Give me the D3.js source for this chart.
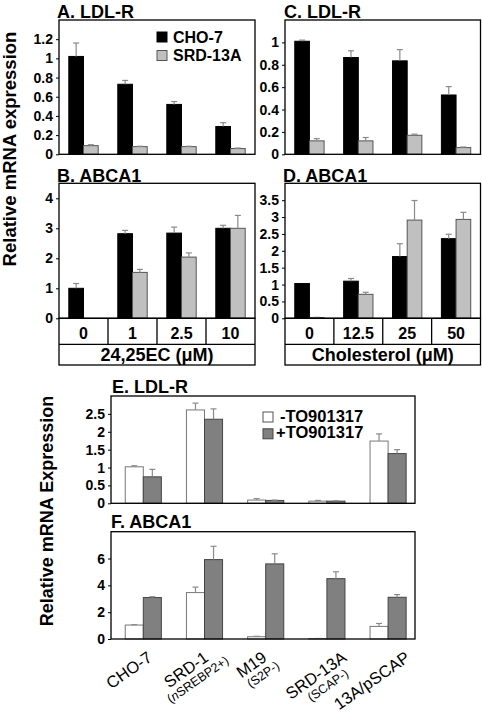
<!DOCTYPE html>
<html><head><meta charset="utf-8">
<script src="https://cdn.jsdelivr.net/npm/d3@7/dist/d3.min.js"></script>
<style>
html,body{margin:0;padding:0;background:#fff;}
svg{display:block;font-family:"Liberation Sans",Arial,Helvetica,sans-serif;}
</style></head>
<body>
<svg id="c" width="482" height="712"></svg>
<script>
// ---------- data ----------
const oxyConc = ["0", "1", "2.5", "10"];          // 24,25EC (µM)
const cholConc = ["0", "12.5", "25", "50"];       // Cholesterol (µM)
const topSeries = ["CHO-7", "SRD-13A"];

const ldlrOxyCHO = [1.02, 0.73, 0.52, 0.29];
const ldlrOxyCHOErr = [0.14, 0.04, 0.03, 0.04];
const ldlrOxySRD = [0.09, 0.08, 0.08, 0.06];
const ldlrOxySRDErr = [0.01, 0.004, 0.004, 0.005];

const abcaOxyCHO = [1.0, 2.82, 2.84, 3.0];
const abcaOxyCHOErr = [0.16, 0.11, 0.2, 0.1];
const abcaOxySRD = [0.0, 1.53, 2.04, 3.0];
const abcaOxySRDErr = [0.0, 0.1, 0.14, 0.43];

const ldlrCholCHO = [1.01, 0.865, 0.835, 0.53];
const ldlrCholCHOErr = [0.01, 0.06, 0.1, 0.075];
const ldlrCholSRD = [0.12, 0.12, 0.17, 0.06];
const ldlrCholSRDErr = [0.02, 0.03, 0.01, 0.005];

const abcaCholCHO = [1.03, 1.1, 1.83, 2.36];
const abcaCholCHOErr = [0.0, 0.08, 0.38, 0.13];
const abcaCholSRD = [0.02, 0.71, 2.91, 2.93];
const abcaCholSRDErr = [0.01, 0.06, 0.58, 0.21];

const cellLines = ["CHO-7", "SRD-1", "M19", "SRD-13A", "13A/pSCAP"];
const cellSub = ["", "(nSREBP2+)", "(S2P-)", "(SCAP-)", ""];
const toSeries = ["-TO901317", "+TO901317"];

const ldlrMinus = [1.02, 2.61, 0.09, 0.06, 1.74];
const ldlrMinusErr = [0.03, 0.19, 0.04, 0.02, 0.2];
const ldlrPlus = [0.74, 2.35, 0.08, 0.06, 1.39];
const ldlrPlusErr = [0.21, 0.29, 0.01, 0.01, 0.11];

const abcaMinus = [1.04, 3.46, 0.17, 0.03, 0.94];
const abcaMinusErr = [0.03, 0.41, 0.03, 0.01, 0.22];
const abcaPlus = [3.09, 5.92, 5.6, 4.5, 3.11];
const abcaPlusErr = [0.06, 0.99, 0.75, 0.51, 0.2];

const ticksA = [0, 0.2, 0.4, 0.6, 0.8, 1, 1.2];
const ticksB = [0, 1, 2, 3, 4];
const ticksC = [0, 0.2, 0.4, 0.6, 0.8, 1];
const ticksD = [0, 0.5, 1, 1.5, 2, 2.5, 3, 3.5];
const ticksE = [0, 0.5, 1, 1.5, 2, 2.5];
const ticksF = [0, 2, 4, 6];

// ---------- layout (text nudges for the slanted cell-line labels) ----------
const labelNudge = [10, 5, 2, 21, 23];

// ---------- drawing ----------
const svg = d3.select("#c");
const BOLD = "bold";

function panel(opt) {
  const g = svg.append("g");
  const y = d3.scaleLinear().domain(opt.domain).range([opt.y1, opt.y0]);
  const x0 = d3.scaleBand().domain(opt.groups).range(opt.bandRange || [opt.x0, opt.x1]);
  const bw = x0.bandwidth();
  const x1 = d3.scaleBand().domain(opt.series.map((s, i) => i)).range([bw * opt.inner, bw * (1 - opt.inner)]);

  opt.values.forEach((vals, si) => {
    g.selectAll(null).data(vals).enter().append("rect")
      .attr("x", (d, i) => x0(opt.groups[i]) + x1(si))
      .attr("y", d => y(d))
      .attr("width", x1.bandwidth())
      .attr("height", d => Math.max(0, y(0) - y(d)))
      .attr("fill", opt.fills[si])
      .attr("stroke", opt.strokes[si])
      .attr("stroke-width", 1);
  });
  opt.values.forEach((vals, si) => {
    const errs = opt.errors[si];
    vals.forEach((v, i) => {
      if (!errs[i]) return;
      const cx = x0(opt.groups[i]) + x1(si) + x1.bandwidth() / 2;
      g.append("line").attr("x1", cx).attr("x2", cx).attr("y1", y(v)).attr("y2", y(v + errs[i]))
        .attr("stroke", "#8a8a8a").attr("stroke-width", 1.2);
      g.append("line").attr("x1", cx - 3).attr("x2", cx + 3).attr("y1", y(v + errs[i])).attr("y2", y(v + errs[i]))
        .attr("stroke", "#8a8a8a").attr("stroke-width", 1.2);
    });
  });
  g.append("rect").attr("x", opt.x0).attr("y", opt.y0).attr("width", opt.x1 - opt.x0).attr("height", opt.y1 - opt.y0)
    .attr("fill", "none").attr("stroke", "#000").attr("stroke-width", 1.3);
  const ax = g.append("g").attr("transform", `translate(${opt.x0},0)`)
    .call(d3.axisLeft(y).tickValues(opt.ticks).tickSize(3).tickPadding(3).tickFormat(d3.format("~g")));
  ax.select(".domain").remove();
  ax.selectAll("line").attr("stroke", "#000");
  ax.selectAll("text").attr("font-size", 14).attr("font-weight", BOLD).attr("fill", "#000")
    .attr("font-family", "Liberation Sans, Arial, sans-serif");
  svg.append("text").attr("x", opt.titleX).attr("y", opt.titleY).text(opt.title)
    .attr("font-size", 18).attr("font-weight", BOLD);
  return {x0, y};
}

const pA = panel({title: "A. LDL-R", titleX: 57, titleY: 18, groups: oxyConc, series: topSeries,
  x0: 59, x1: 255, y0: 20, y1: 154.3, domain: [0, 1.4], ticks: ticksA, inner: 0.2,
  values: [ldlrOxyCHO, ldlrOxySRD], errors: [ldlrOxyCHOErr, ldlrOxySRDErr],
  fills: ["#000", "#c0c0c0"], strokes: ["#000", "#555"]});
const pB = panel({title: "B. ABCA1", titleX: 57, titleY: 181.5, groups: oxyConc, series: topSeries,
  x0: 59, x1: 255, y0: 183.3, y1: 318.3, domain: [0, 4.5], ticks: ticksB, inner: 0.2,
  values: [abcaOxyCHO, abcaOxySRD], errors: [abcaOxyCHOErr, abcaOxySRDErr],
  fills: ["#000", "#c0c0c0"], strokes: ["#000", "#555"]});
const pC = panel({title: "C. LDL-R", titleX: 284, titleY: 18, groups: cholConc, series: topSeries,
  x0: 285, x1: 480.5, y0: 20, y1: 154.3, domain: [0, 1.2], ticks: ticksC, inner: 0.2,
  values: [ldlrCholCHO, ldlrCholSRD], errors: [ldlrCholCHOErr, ldlrCholSRDErr],
  fills: ["#000", "#c0c0c0"], strokes: ["#000", "#555"]});
const pD = panel({title: "D. ABCA1", titleX: 283, titleY: 181.5, groups: cholConc, series: topSeries,
  x0: 285, x1: 480.5, y0: 183.3, y1: 318.3, domain: [0, 4], ticks: ticksD, inner: 0.2,
  values: [abcaCholCHO, abcaCholSRD], errors: [abcaCholCHOErr, abcaCholSRDErr],
  fills: ["#000", "#c0c0c0"], strokes: ["#000", "#555"]});

topSeries.forEach((s, i) => {
  svg.append("rect").attr("x", 157).attr("y", 32 + i * 18.5).attr("width", 10).attr("height", 10)
    .attr("fill", i ? "#c0c0c0" : "#000").attr("stroke", i ? "#555" : "#000");
  svg.append("text").attr("x", 173).attr("y", 42.5 + i * 18.5).text(s)
    .attr("font-size", 16).attr("font-weight", BOLD);
});

function table(p, groups, label, x0, x1) {
  const top = 318.3, mid = 344.3, bot = 365;
  const g = svg.append("g");
  g.append("rect").attr("x", x0).attr("y", top).attr("width", x1 - x0).attr("height", bot - top)
    .attr("fill", "none").attr("stroke", "#000").attr("stroke-width", 1.3);
  g.append("line").attr("x1", x0).attr("x2", x1).attr("y1", mid).attr("y2", mid).attr("stroke", "#000").attr("stroke-width", 1.3);
  groups.forEach((c, i) => {
    if (i > 0) g.append("line").attr("x1", p.x0(c)).attr("x2", p.x0(c)).attr("y1", top).attr("y2", mid)
      .attr("stroke", "#000").attr("stroke-width", 1.3);
    g.append("text").attr("x", p.x0(c) + p.x0.bandwidth() / 2).attr("y", 339).attr("text-anchor", "middle")
      .text(c).attr("font-size", 16).attr("font-weight", BOLD);
  });
  g.append("text").attr("x", (x0 + x1) / 2).attr("y", 361).attr("text-anchor", "middle")
    .text(label).attr("font-size", 18).attr("font-weight", BOLD);
}
table(pB, oxyConc, "24,25EC (\u03BCM)", 59, 255);
table(pD, cholConc, "Cholesterol (\u03BCM)", 285, 480.5);

const pE = panel({title: "E. LDL-R", titleX: 112, titleY: 393, groups: cellLines, series: toSeries,
  x0: 111, x1: 415, bandRange: [112.7, 418.7], y0: 396, y1: 503.3, domain: [0, 3], ticks: ticksE, inner: 0.205,
  values: [ldlrMinus, ldlrPlus], errors: [ldlrMinusErr, ldlrPlusErr],
  fills: ["#fff", "#808080"], strokes: ["#777", "#444"]});
const pF = panel({title: "F. ABCA1", titleX: 111, titleY: 527.5, groups: cellLines, series: toSeries,
  x0: 111, x1: 415, bandRange: [112.7, 418.7], y0: 531.7, y1: 639, domain: [0, 8], ticks: ticksF, inner: 0.205,
  values: [abcaMinus, abcaPlus], errors: [abcaMinusErr, abcaPlusErr],
  fills: ["#fff", "#808080"], strokes: ["#777", "#444"]});

toSeries.forEach((s, i) => {
  svg.append("rect").attr("x", 263).attr("y", 412 + i * 16.8).attr("width", 10).attr("height", 10)
    .attr("fill", i ? "#808080" : "#fff").attr("stroke", i ? "#444" : "#555");
  svg.append("text").attr("x", i ? 276 : 280).attr("y", 421.5 + i * 16.8).text(s)
    .attr("font-size", 16.5).attr("font-weight", BOLD);
});

// slanted cell-line labels (main line end-anchored, sub-line centred beneath it)
cellLines.forEach((c, i) => {
  const cx = pF.x0(c) + pF.x0.bandwidth() / 2;
  const g = svg.append("g").attr("transform", `translate(${cx + labelNudge[i]},${pF.y(0) + 21}) rotate(-35)`);
  const t = g.append("text").attr("x", 0).attr("y", 0).attr("text-anchor", "end").text(c)
    .attr("font-size", 16.5);
  if (cellSub[i]) {
    const L = t.node().getComputedTextLength();
    const st = g.append("text").attr("x", -L / 2 + 4).attr("y", 13.5).attr("text-anchor", "middle").attr("font-size", 12.5);
    const s = cellSub[i];
    if (s.indexOf("(n") === 0) {
      st.append("tspan").text("(");
      st.append("tspan").attr("font-style", "italic").text("n");
      st.append("tspan").text(s.slice(2));
    } else st.text(s);
  }
});

svg.append("text").attr("transform", "translate(15.5,149) rotate(-90)").attr("text-anchor", "middle")
  .text("Relative mRNA expression").attr("font-size", 18.5).attr("font-weight", BOLD);
svg.append("text").attr("transform", "translate(53,511) rotate(-90)").attr("text-anchor", "middle")
  .text("Relative mRNA Expression").attr("font-size", 18).attr("font-weight", BOLD);
</script>
</body></html>
